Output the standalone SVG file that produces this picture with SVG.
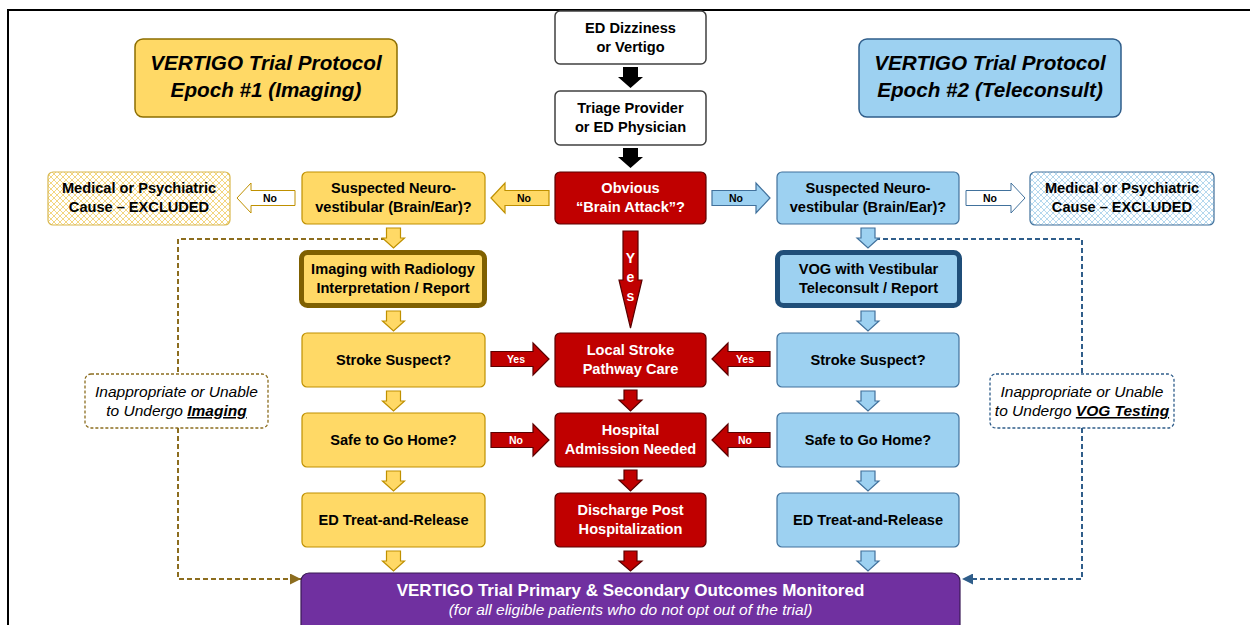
<svg xmlns="http://www.w3.org/2000/svg" width="1250" height="625" viewBox="0 0 1250 625">
<defs>
<style>
text{font-family:"Liberation Sans",Arial,sans-serif;text-anchor:middle}
.t{font-size:14.6px;font-weight:bold;fill:#000}
.tw{font-size:14.6px;font-weight:bold;fill:#fff}
.title{font-size:20.7px;font-weight:bold;font-style:italic;fill:#000}
.lbl{font-size:10.5px;font-weight:bold;fill:#000}
.lblw{font-size:10.5px;font-weight:bold;fill:#fff}
.it{font-size:15.5px;font-style:italic;fill:#000}
.y{fill:#FFD966;stroke:#BF9000;stroke-width:1.2}
.b{fill:#9DD1F1;stroke:#41719C;stroke-width:1.2}
.r{fill:#C00000;stroke:#5A0000;stroke-width:1.2}
.w{fill:#fff;stroke:#404040;stroke-width:1.5}
.k{fill:#000}
.dy{fill:none;stroke:#8C6D1F;stroke-width:2;stroke-dasharray:5 3}
.db{fill:none;stroke:#2F5D8A;stroke-width:2;stroke-dasharray:5 3}
</style>
<pattern id="hy" width="6" height="6" patternUnits="userSpaceOnUse">
<rect width="6" height="6" fill="#fff"/>
<path d="M0,0 L6,6 M6,0 L0,6" stroke="#F3D680" stroke-width="1"/>
</pattern>
<pattern id="hb" width="6" height="6" patternUnits="userSpaceOnUse">
<rect width="6" height="6" fill="#fff"/>
<path d="M0,0 L6,6 M6,0 L0,6" stroke="#B5D8EE" stroke-width="1"/>
</pattern>
<marker id="my" viewBox="0 0 10 10" refX="10" refY="5" markerWidth="12" markerHeight="11" markerUnits="userSpaceOnUse" orient="auto"><path d="M0,0 L10,5 L0,10 Z" fill="#8C6D1F"/></marker>
<marker id="mb" viewBox="0 0 10 10" refX="10" refY="5" markerWidth="12" markerHeight="11" markerUnits="userSpaceOnUse" orient="auto"><path d="M0,0 L10,5 L0,10 Z" fill="#2F5D8A"/></marker>
</defs>
<rect width="1250" height="625" fill="#fff"/>
<rect x="8" y="10" width="1280" height="700" fill="none" stroke="#000" stroke-width="2"/>

<g id="connectors">
<path class="dy" d="M386,239 H178 V374"/>
<path class="dy" d="M178,428 V579 H301" marker-end="url(#my)"/>
<path class="db" d="M875,239 H1082 V374"/>
<path class="db" d="M1082,428 V579 H962" marker-end="url(#mb)"/>
<!-- black -->
<path class="k" d="M623,67 H638 V77 H643 L630.5,88 L618,77 H623 Z"/>
<path class="k" d="M623,148 H638 V157 H643 L630.5,168 L618,157 H623 Z"/>
<!-- yellow/blue/white horizontal -->
<path class="y" d="M491,198 L505,183 V190.5 H549 V205.5 H505 V213 Z"/>
<text class="lbl" x="524" y="202">No</text>
<path class="b" d="M712,190.5 H756 V183 L770,198 L756,213 V205.5 H712 Z"/>
<text class="lbl" x="736" y="202">No</text>
<path fill="#fff" stroke="#BF9000" stroke-width="1" d="M237,198 L251,183 V190.5 H295 V205.5 H251 V213 Z"/>
<text class="lbl" x="270" y="202">No</text>
<path fill="#fff" stroke="#41719C" stroke-width="1" d="M966,190.5 H1011 V183 L1025,198 L1011,213 V205.5 H966 Z"/>
<text class="lbl" x="990" y="202">No</text>
<!-- yes vertical -->
<path class="r" d="M623,231 H638 V280 H642 L630.5,328 L619,280 H623 Z"/>
<text class="lblw" style="font-size:14px" x="630.5" y="263">Y</text>
<text class="lblw" style="font-size:14px" x="630.5" y="282">e</text>
<text class="lblw" style="font-size:14px" x="630.5" y="301">s</text>
<!-- red horizontal -->
<path class="r" d="M491,351.5 H533 V343 L549,359 L533,375 V366.5 H491 Z"/>
<text class="lblw" x="516" y="363">Yes</text>
<path class="r" d="M712,359 L728,343 V351.5 H770 V366.5 H728 V375 Z"/>
<text class="lblw" x="745" y="363">Yes</text>
<path class="r" d="M491,432.5 H533 V424 L549,440 L533,456 V447.5 H491 Z"/>
<text class="lblw" x="516" y="444">No</text>
<path class="r" d="M712,440 L728,424 V432.5 H770 V447.5 H728 V456 Z"/>
<text class="lblw" x="745" y="444">No</text>
<!-- red down -->
<path class="r" d="M624,390 H637 V400 H642 L630.5,411 L619,400 H624 Z"/>
<path class="r" d="M624,470 H637 V480 H642 L630.5,491 L619,480 H624 Z"/>
<path class="r" d="M624,551 H637 V561 H642 L630.5,571 L619,561 H624 Z"/>
<!-- yellow down -->
<path class="y" d="M386.5,228 H400.5 V238 H404.5 L393.5,248 L382.5,238 H386.5 Z"/>
<path class="y" d="M386.5,311 H400.5 V321 H404.5 L393.5,331 L382.5,321 H386.5 Z"/>
<path class="y" d="M386.5,391 H400.5 V401 H404.5 L393.5,411 L382.5,401 H386.5 Z"/>
<path class="y" d="M386.5,471 H400.5 V481 H404.5 L393.5,491 L382.5,481 H386.5 Z"/>
<path class="y" d="M386.5,551 H400.5 V561 H404.5 L393.5,571 L382.5,561 H386.5 Z"/>
<!-- blue down -->
<path class="b" d="M861,228 H875 V238 H879 L868,248 L857,238 H861 Z"/>
<path class="b" d="M861,311 H875 V321 H879 L868,331 L857,321 H861 Z"/>
<path class="b" d="M861,391 H875 V401 H879 L868,411 L857,401 H861 Z"/>
<path class="b" d="M861,471 H875 V481 H879 L868,491 L857,481 H861 Z"/>
<path class="b" d="M861,551 H875 V561 H879 L868,571 L857,561 H861 Z"/>
</g>

<g id="title1">
<rect x="135" y="39" width="262" height="78" rx="8" fill="#FFD966" stroke="#8C6D00" stroke-width="1.5"/>
<text class="title" x="266" y="70">VERTIGO Trial Protocol</text>
<text class="title" x="266" y="97">Epoch #1 (Imaging)</text>
</g>
<g id="title2">
<rect x="859" y="39" width="262" height="78" rx="8" fill="#9DD1F1" stroke="#2F5D8A" stroke-width="1.5"/>
<text class="title" x="990" y="70">VERTIGO Trial Protocol</text>
<text class="title" x="990" y="97">Epoch #2 (Teleconsult)</text>
</g>

<g id="ed">
<rect class="w" x="555" y="11" width="151" height="53" rx="5"/>
<text class="t" x="630.5" y="33">ED Dizziness</text>
<text class="t" x="630.5" y="52">or Vertigo</text>
</g>
<g id="triage">
<rect class="w" x="555" y="91" width="151" height="54" rx="5"/>
<text class="t" x="630.5" y="113">Triage Provider</text>
<text class="t" x="630.5" y="132">or ED Physician</text>
</g>
<g id="obvious">
<rect class="r" x="555" y="172" width="151" height="52" rx="5"/>
<text class="tw" x="630.5" y="193">Obvious</text>
<text class="tw" x="630.5" y="212">“Brain Attack”?</text>
</g>
<g id="susp1">
<rect class="y" x="302" y="172" width="183" height="52" rx="5"/>
<text class="t" x="393.5" y="193">Suspected Neuro-</text>
<text class="t" x="393.5" y="212">vestibular (Brain/Ear)?</text>
</g>
<g id="susp2">
<rect class="b" x="777" y="172" width="182" height="52" rx="5"/>
<text class="t" x="868" y="193">Suspected Neuro-</text>
<text class="t" x="868" y="212">vestibular (Brain/Ear)?</text>
</g>
<g id="med1">
<rect x="48" y="172" width="182" height="53" rx="5" fill="url(#hy)" stroke="#D9B84E" stroke-width="1.2"/>
<text class="t" x="139" y="193">Medical or Psychiatric</text>
<text class="t" x="139" y="212">Cause – EXCLUDED</text>
</g>
<g id="med2">
<rect x="1030" y="172" width="184" height="53" rx="5" fill="url(#hb)" stroke="#41719C" stroke-width="1.2"/>
<text class="t" x="1122" y="193">Medical or Psychiatric</text>
<text class="t" x="1122" y="212">Cause – EXCLUDED</text>
</g>
<g id="imaging">
<rect x="301.5" y="252.5" width="183" height="53" rx="6" fill="#FFD966" stroke="#7F6000" stroke-width="5"/>
<text class="t" x="393" y="274">Imaging with Radiology</text>
<text class="t" x="393" y="293">Interpretation / Report</text>
</g>
<g id="vog">
<rect x="777.5" y="252.5" width="182" height="53" rx="6" fill="#9DD1F1" stroke="#1F4E79" stroke-width="5"/>
<text class="t" x="868.5" y="274">VOG with Vestibular</text>
<text class="t" x="868.5" y="293">Teleconsult / Report</text>
</g>
<g id="stroke1">
<rect class="y" x="302" y="333" width="183" height="54" rx="5"/>
<text class="t" x="393.5" y="365">Stroke Suspect?</text>
</g>
<g id="local">
<rect class="r" x="555" y="333" width="151" height="54" rx="5"/>
<text class="tw" x="630.5" y="355">Local Stroke</text>
<text class="tw" x="630.5" y="374">Pathway Care</text>
</g>
<g id="stroke2">
<rect class="b" x="777" y="333" width="182" height="54" rx="5"/>
<text class="t" x="868" y="365">Stroke Suspect?</text>
</g>
<g id="safe1">
<rect class="y" x="302" y="413" width="183" height="54" rx="5"/>
<text class="t" x="393.5" y="445">Safe to Go Home?</text>
</g>
<g id="hospital">
<rect class="r" x="555" y="413" width="151" height="54" rx="5"/>
<text class="tw" x="630.5" y="435">Hospital</text>
<text class="tw" x="630.5" y="454">Admission Needed</text>
</g>
<g id="safe2">
<rect class="b" x="777" y="413" width="182" height="54" rx="5"/>
<text class="t" x="868" y="445">Safe to Go Home?</text>
</g>
<g id="treat1">
<rect class="y" x="302" y="493" width="183" height="54" rx="5"/>
<text class="t" x="393.5" y="525">ED Treat-and-Release</text>
</g>
<g id="discharge">
<rect class="r" x="555" y="493" width="151" height="54" rx="5"/>
<text class="tw" x="630.5" y="515">Discharge Post</text>
<text class="tw" x="630.5" y="534">Hospitalization</text>
</g>
<g id="treat2">
<rect class="b" x="777" y="493" width="182" height="54" rx="5"/>
<text class="t" x="868" y="525">ED Treat-and-Release</text>
</g>
<g id="inapp1">
<rect x="85" y="374" width="183" height="54" rx="6" fill="#fff" stroke="#8C6D1F" stroke-width="1.3" stroke-dasharray="3 2"/>
<text class="it" x="176.5" y="397">Inappropriate or Unable</text>
<text class="it" x="176.5" y="416">to Undergo <tspan font-weight="bold" text-decoration="underline">Imaging</tspan></text>
</g>
<g id="inapp2">
<rect x="990" y="374" width="184" height="54" rx="6" fill="#fff" stroke="#2F5D8A" stroke-width="1.3" stroke-dasharray="3 2"/>
<text class="it" x="1082" y="397">Inappropriate or Unable</text>
<text class="it" x="1082" y="416">to Undergo <tspan font-weight="bold" text-decoration="underline">VOG Testing</tspan></text>
</g>
<g id="outcomes">
<rect x="301" y="573" width="659" height="70" rx="8" fill="#7030A0" stroke="#3A1A55" stroke-width="1.2"/>
<text x="630.5" y="596" style="font-size:17px;font-weight:bold;fill:#fff">VERTIGO Trial Primary &amp; Secondary Outcomes Monitored</text>
<text x="630.5" y="615" style="font-size:15.5px;font-style:italic;fill:#fff">(for all eligible patients who do not opt out of the trial)</text>
</g>
</svg>
